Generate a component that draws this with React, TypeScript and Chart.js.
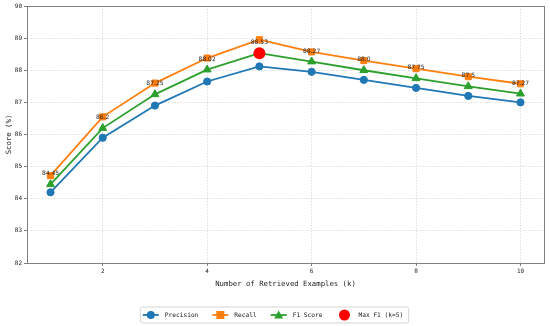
import React, { useEffect, useRef } from 'react';
import { Chart, registerables } from 'chart.js';

Chart.register(...registerables);

const kValues = [1, 2, 3, 4, 5, 6, 7, 8, 9, 10];
const precision = [84.2, 85.9, 86.9, 87.65, 88.12, 87.95, 87.7, 87.45, 87.2, 87.0];
const recall = [84.72, 86.55, 87.6, 88.38, 88.95, 88.57, 88.3, 88.05, 87.8, 87.58];
const f1 = [84.45, 86.2, 87.25, 88.02, 88.53, 88.27, 88.0, 87.75, 87.5, 87.27];
const f1Labels = ['84.45', '86.2', '87.25', '88.02', '88.53', '88.27', '88.0', '87.75', '87.5', '87.27'];
const maxK = 5;
const maxF1 = 88.53;
const xTicks = [2, 4, 6, 8, 10];
const yTicks = [82, 83, 84, 85, 86, 87, 88, 89, 90];

const BLUE = '#1f77b4';
const ORANGE = '#ff7f0e';
const GREEN = '#2ca02c';
const RED = '#ff0000';
const MONO = '"DejaVu Sans Mono", "Liberation Mono", monospace';
const SANS = '"DejaVu Sans", sans-serif';

const legendItems = [
  { label: 'Precision', color: BLUE, style: 'circle', line: true },
  { label: 'Recall', color: ORANGE, style: 'rect', line: true },
  { label: 'F1 Score', color: GREEN, style: 'triangle', line: true },
  { label: 'Max F1 (k=5)', color: RED, style: 'bigcircle', line: false },
];

const framePlugin = {
  id: 'frame',
  beforeDatasetsDraw(chart: any) {
    const { ctx, chartArea: a } = chart;
    ctx.save();
    ctx.strokeStyle = '#808080';
    ctx.lineWidth = 1;
    ctx.strokeRect(a.left + 0.5, a.top + 0.5, a.right - a.left, a.bottom - a.top);
    ctx.restore();
  },
};

const labelPlugin = {
  id: 'f1labels',
  afterDatasetsDraw(chart: any) {
    const { ctx } = chart;
    const xs = chart.scales.x;
    const ys = chart.scales.y;
    ctx.save();
    ctx.font = `6px ${SANS}`;
    ctx.fillStyle = '#222';
    ctx.textAlign = 'center';
    ctx.textBaseline = 'middle';
    kValues.forEach((k, i) => {
      const px = xs.getPixelForValue(k);
      const py = ys.getPixelForValue(f1[i]) - 10.5;
      ctx.fillText(f1Labels[i], px, py);
    });
    ctx.restore();
  },
};

function drawMarker(ctx: CanvasRenderingContext2D, style: string, color: string, x: number, y: number) {
  ctx.fillStyle = color;
  ctx.beginPath();
  if (style === 'circle') {
    ctx.arc(x, y, 4, 0, Math.PI * 2);
    ctx.fill();
  } else if (style === 'bigcircle') {
    ctx.arc(x, y, 5.5, 0, Math.PI * 2);
    ctx.fill();
  } else if (style === 'rect') {
    ctx.rect(x - 4, y - 4, 8, 8);
    ctx.fill();
  } else if (style === 'triangle') {
    ctx.moveTo(x, y - 4.5);
    ctx.lineTo(x + 4.5, y + 3.5);
    ctx.lineTo(x - 4.5, y + 3.5);
    ctx.closePath();
    ctx.fill();
  }
}

const legendPlugin = {
  id: 'customLegend',
  afterDraw(chart: any) {
    const { ctx } = chart;
    ctx.save();
    ctx.font = `6.2px ${MONO}`;
    const handle = 16;
    const gapText = 6;
    const gapItem = 14;
    const padL = 3;
    const padR = 5;
    const widths = legendItems.map((it) => handle + gapText + ctx.measureText(it.label).width);
    const total = padL + padR + widths.reduce((s, w) => s + w, 0) + gapItem * (legendItems.length - 1);
    const boxX = 274 - total / 2;
    const boxY = 306.5;
    const boxH = 16;
    ctx.fillStyle = '#ffffff';
    ctx.strokeStyle = '#d6d6d6';
    ctx.lineWidth = 1;
    ctx.beginPath();
    ctx.roundRect(boxX + 0.5, boxY + 0.5, total, boxH, 2);
    ctx.fill();
    ctx.stroke();
    const cy = boxY + boxH / 2 + 0.5;
    let x = boxX + padL;
    legendItems.forEach((it, i) => {
      if (it.line) {
        ctx.strokeStyle = it.color;
        ctx.lineWidth = 1.8;
        ctx.beginPath();
        ctx.moveTo(x, cy);
        ctx.lineTo(x + handle, cy);
        ctx.stroke();
      }
      drawMarker(ctx, it.style, it.color, x + handle / 2, cy);
      ctx.fillStyle = '#222';
      ctx.textAlign = 'left';
      ctx.textBaseline = 'middle';
      ctx.fillText(it.label, x + handle + gapText, cy);
      x += widths[i] + gapItem;
    });
    ctx.restore();
  },
};

export default function App() {
  const canvasRef = useRef<HTMLCanvasElement | null>(null);

  useEffect(() => {
    if (!canvasRef.current) return;
    const mk = (label: string, data: number[], color: string, style: string, radius: number, order: number) => ({
      label,
      data: kValues.map((k, i) => ({ x: k, y: data[i] })),
      borderColor: color,
      backgroundColor: color,
      pointBackgroundColor: color,
      pointBorderColor: color,
      pointStyle: style,
      pointRadius: radius,
      pointBorderWidth: 1,
      borderWidth: 1.8,
      showLine: true,
      order,
    });
    const chart = new Chart(canvasRef.current, {
      type: 'scatter',
      data: {
        datasets: [
          {
            label: 'Max F1 (k=5)',
            data: [{ x: maxK, y: maxF1 }],
            backgroundColor: RED,
            borderColor: RED,
            pointRadius: 6,
            pointBorderWidth: 0,
            showLine: false,
            order: 0,
          } as any,
          mk('Recall', recall, ORANGE, 'rect', 4.3, 1),
          mk('F1 Score', f1, GREEN, 'triangle', 4.6, 2),
          mk('Precision', precision, BLUE, 'circle', 3.6, 3),
        ],
      },
      options: {
        animation: false,
        responsive: false,
        maintainAspectRatio: false,
        layout: { padding: { top: 6, right: 4, bottom: 38, left: 0 } },
        plugins: {
          legend: { display: false },
          tooltip: { enabled: false },
        },
        scales: {
          x: {
            type: 'linear',
            min: 0.55,
            max: 10.45,
            afterBuildTicks: (s: any) => {
              s.ticks = xTicks.map((v) => ({ value: v }));
            },
            afterFit: (s: any) => {
              s.height = 25;
            },
            grid: {
              color: 'rgba(0,0,0,0.13)',
              lineWidth: 1,
              drawTicks: true,
              tickLength: 3,
              tickColor: '#808080',
              tickWidth: 1,
            },
            border: { display: false, dash: [1.5, 1.5] },
            ticks: {
              font: { family: MONO, size: 6 },
              color: '#222',
              padding: 2,
              maxRotation: 0,
              callback: (v: any) => String(v),
            },
            title: {
              display: true,
              text: 'Number of Retrieved Examples (k)',
              font: { family: MONO, size: 7.3 },
              color: '#222',
              padding: { top: 0, bottom: 0 },
            },
          },
          y: {
            type: 'linear',
            min: 82,
            max: 90,
            afterBuildTicks: (s: any) => {
              s.ticks = yTicks.map((v) => ({ value: v }));
            },
            afterFit: (s: any) => {
              s.width = 27;
            },
            grid: {
              color: 'rgba(0,0,0,0.13)',
              lineWidth: 1,
              drawTicks: true,
              tickLength: 3,
              tickColor: '#808080',
              tickWidth: 1,
            },
            border: { display: false, dash: [1.5, 1.5] },
            ticks: {
              font: { family: MONO, size: 6 },
              color: '#222',
              padding: 2,
              callback: (v: any) => String(v),
            },
            title: {
              display: true,
              text: 'Score (%)',
              font: { family: MONO, size: 7.3 },
              color: '#222',
              padding: { top: 4.5, bottom: 0 },
            },
          },
        },
      },
      plugins: [framePlugin, labelPlugin, legendPlugin],
    });
    return () => chart.destroy();
  }, []);

  return (
    <div style={{ position: 'fixed', left: 0, top: 0, width: 550, height: 326, background: '#fff' }}>
      <canvas ref={canvasRef} width={550} height={326} style={{ width: 550, height: 326, display: 'block' }} />
    </div>
  );
}
